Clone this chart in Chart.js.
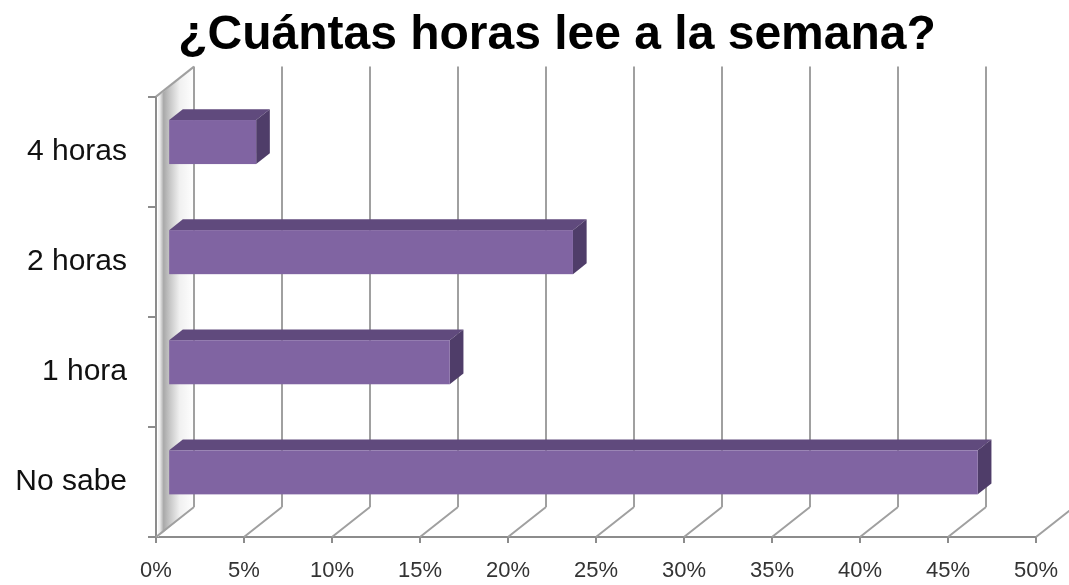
<!DOCTYPE html>
<html><head><meta charset="utf-8">
<style>html,body{margin:0;padding:0;background:#fff;}#wrap{width:1069px;height:585px;}</style>
<script src="https://cdn.jsdelivr.net/npm/chart.js@4.4.1/dist/chart.umd.min.js"></script>
</head><body><div id="wrap"><canvas id="c" width="1069" height="585"></canvas></div>
<script>
const categories = ['4 horas', '2 horas', '1 hora', 'No sabe'];
const values = [0.05, 0.23, 0.16, 0.46];
const tickValues = [0, 0.05, 0.10, 0.15, 0.20, 0.25, 0.30, 0.35, 0.40, 0.45, 0.50];
const tickLabels = ['0%', '5%', '10%', '15%', '20%', '25%', '30%', '35%', '40%', '45%', '50%'];
const titleText = '¿Cuántas horas lee a la semana?';

// 3D styling
const DX = 38, DY = -30;        // full depth offset of the back wall
const F1 = 0.32, F2 = 0.68;     // bar front/back depth fractions
const GRID = '#a0a0a0';
const AXIS = '#8c8c8c';
const FRONT = '#8064a2', TOP = '#604a7d', SIDE = '#4f3d69';

const threeD = {
  id: 'threeD',
  afterLayout(chart) {
    // let the category labels extend to the left edge without being clipped
    chart.scales.y.left = 0;
  },
  beforeDatasetsDraw(chart) {
    const ctx = chart.ctx, xs = chart.scales.x, a = chart.chartArea;
    const x0 = xs.getPixelForValue(0);
    ctx.save();
    // left wall
    const g = ctx.createLinearGradient(x0, 0, x0 + DX, 0);
    g.addColorStop(0, '#ffffff');
    g.addColorStop(0.1, '#eeeeee');
    g.addColorStop(0.2, '#a9a9a9');
    g.addColorStop(0.36, '#c6c6c6');
    g.addColorStop(0.62, '#f0f0f0');
    g.addColorStop(1, '#ffffff');
    ctx.fillStyle = g;
    ctx.beginPath();
    ctx.moveTo(x0 + 2, a.top);
    ctx.lineTo(x0 + DX, a.top + DY);
    ctx.lineTo(x0 + DX, a.bottom + DY);
    ctx.lineTo(x0 + 2, a.bottom);
    ctx.closePath();
    ctx.fill();
    ctx.strokeStyle = GRID;
    ctx.lineWidth = 2;
    ctx.beginPath();
    ctx.moveTo(x0, a.top); ctx.lineTo(x0 + DX, a.top + DY);
    ctx.stroke();
    // back grid lines and floor diagonals
    tickValues.forEach(v => {
      const px = xs.getPixelForValue(v);
      ctx.beginPath();
      ctx.moveTo(px + DX, a.top + DY);
      ctx.lineTo(px + DX, a.bottom + DY);
      ctx.moveTo(px, a.bottom);
      ctx.lineTo(px + DX, a.bottom + DY);
      ctx.stroke();
    });
    ctx.restore();
  },
  afterDatasetsDraw(chart) {
    const ctx = chart.ctx;
    const meta = chart.getDatasetMeta(0);
    const fx = DX * F1, fy = DY * F1;
    const bx = DX * (F2 - F1), by = DY * (F2 - F1);
    ctx.save();
    meta.data.forEach(el => {
      const p = el.getProps(['x', 'y', 'base', 'height'], true);
      const left = p.base + fx, right = p.x + fx;
      const top = p.y - p.height / 2 + fy, bottom = p.y + p.height / 2 + fy;
      ctx.fillStyle = TOP;
      ctx.beginPath();
      ctx.moveTo(left, top); ctx.lineTo(left + bx, top + by);
      ctx.lineTo(right + bx, top + by); ctx.lineTo(right, top);
      ctx.closePath(); ctx.fill();
      ctx.fillStyle = SIDE;
      ctx.beginPath();
      ctx.moveTo(right, top); ctx.lineTo(right + bx, top + by);
      ctx.lineTo(right + bx, bottom + by); ctx.lineTo(right, bottom);
      ctx.closePath(); ctx.fill();
      ctx.fillStyle = FRONT;
      ctx.fillRect(left, top, right - left, bottom - top);
    });
    ctx.restore();
  }
};

new Chart(document.getElementById('c'), {
  type: 'bar',
  data: {
    labels: categories,
    datasets: [{
      data: values,
      backgroundColor: 'rgba(0,0,0,0)',
      borderWidth: 0,
      barPercentage: 0.8,
      categoryPercentage: 0.5
    }]
  },
  options: {
    indexAxis: 'y',
    responsive: false,
    animation: false,
    devicePixelRatio: 1,
    layout: { padding: { left: 78, right: 33, top: 0, bottom: 0 } },
    plugins: {
      legend: { display: false },
      tooltip: { enabled: false },
      title: {
        display: true,
        text: titleText,
        color: '#000',
        font: { family: '"Liberation Sans", Arial, sans-serif', size: 48, weight: 'bold', lineHeight: 1.2 },
        padding: { top: 7, bottom: 32 }
      }
    },
    scales: {
      x: {
        type: 'linear',
        min: 0, max: 0.5,
        afterBuildTicks: s => { s.ticks = tickValues.map(v => ({ value: v })); },
        afterFit: s => { s.height = 48; s.paddingLeft = 0; s.paddingRight = 0; },
        ticks: {
          callback: (v, i) => tickLabels[i],
          color: '#333',
          font: { family: '"Liberation Sans", Arial, sans-serif', size: 22 },
          padding: 15,
          maxRotation: 0,
          autoSkip: false
        },
        grid: { drawOnChartArea: false, drawTicks: true, tickLength: 6, color: AXIS, lineWidth: 2 },
        border: { display: true, color: AXIS, width: 2 }
      },
      y: {
        type: 'category',
        afterFit: s => { s.width = 78; s.paddingTop = 0; s.paddingBottom = 0; },
        ticks: {
          color: '#111',
          font: { family: '"Liberation Sans", Arial, sans-serif', size: 30 },
          padding: 21
        },
        grid: { offset: true, drawOnChartArea: false, drawTicks: true, tickLength: 8, color: AXIS, lineWidth: 2 },
        border: { display: true, color: AXIS, width: 2 }
      }
    }
  },
  plugins: [threeD]
});
</script>
</body></html>
